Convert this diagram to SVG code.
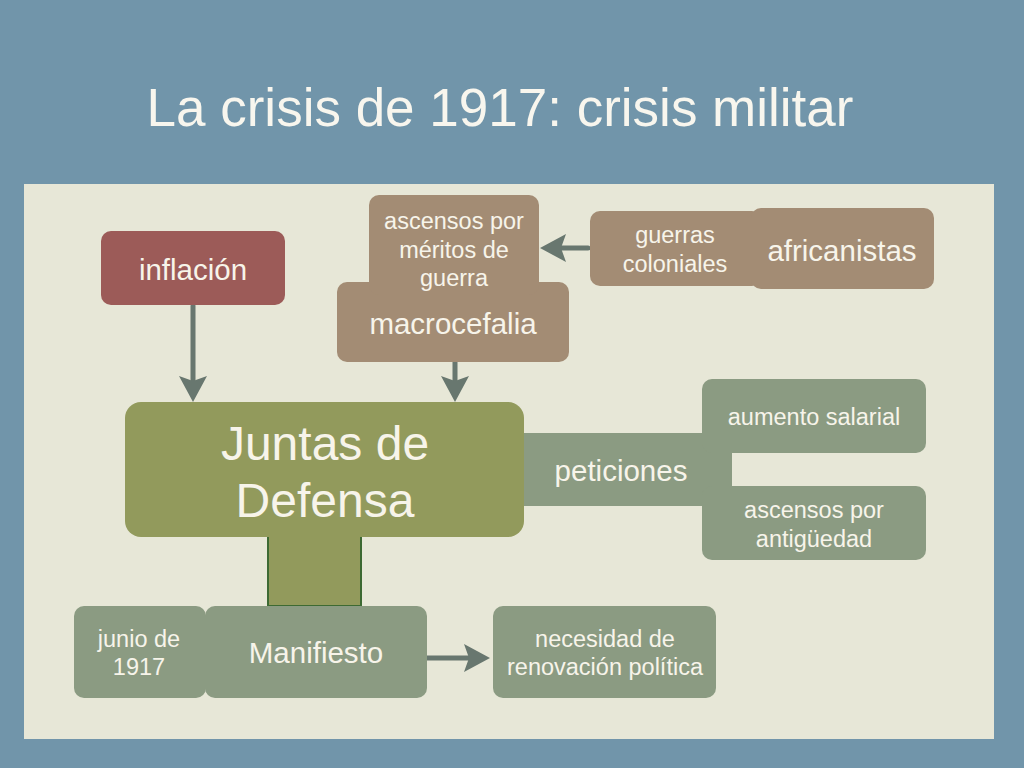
<svg xmlns="http://www.w3.org/2000/svg" width="1024" height="768" viewBox="0 0 1024 768">
<defs>
<style>
.t{font-family:"Liberation Sans",Arial,sans-serif;fill:#f7f4ea;text-anchor:middle}
.s{font-size:23.5px}
.m{font-size:29.5px}
.red{fill:#9c5b58}
.brn{fill:#a38c74}
.olv{fill:#929a5c}
.grn{fill:#8b9b82}
.con{stroke:#68776f;stroke-width:5;fill:none;stroke-linecap:round}
</style>
<marker id="ah" markerUnits="userSpaceOnUse" viewBox="0 0 26 28" refX="5" refY="14" markerWidth="26" markerHeight="28" orient="auto">
<path d="M0,0 L26,14 L0,28 L5,14 Z" fill="#68776f"/>
</marker>
</defs>
<rect width="1024" height="768" fill="#7195aa"/>
<rect x="24" y="184" width="970" height="555" fill="#e7e7d7"/>
<text x="500" y="126" style="font-family:'Liberation Sans',Arial,sans-serif;font-size:53px;fill:#f8f6ee;text-anchor:middle">La crisis de 1917: crisis militar</text>

<g id="connectors">
<line class="con" x1="193" y1="306" x2="193" y2="381" marker-end="url(#ah)"/>
<line class="con" x1="455" y1="362" x2="455" y2="381" marker-end="url(#ah)"/>
<line class="con" x1="588" y1="248" x2="561" y2="248" marker-end="url(#ah)"/>
<line class="con" x1="420" y1="658" x2="469" y2="658" marker-end="url(#ah)"/>
<rect x="268" y="520" width="93" height="86" class="olv"/>
<path d="M268,537 V606 H361 V537" fill="none" stroke="#3d6a33" stroke-width="2"/>
</g>

<g id="inflacion">
<rect x="101" y="231" width="184" height="74" rx="10" class="red"/>
<text x="193" y="280" class="t m">inflación</text>
</g>

<g id="macrocefalia">
<rect x="337" y="282" width="232" height="80" rx="10" class="brn"/>
<text x="453" y="334" class="t m">macrocefalia</text>
</g>

<g id="ascensos-meritos">
<rect x="369" y="195" width="170" height="100" rx="10" class="brn"/>
<text x="454" y="229" class="t s">ascensos por</text>
<text x="454" y="258" class="t s">méritos de</text>
<text x="454" y="286" class="t s">guerra</text>
</g>

<g id="guerras-coloniales">
<rect x="590" y="211" width="172" height="75" rx="10" class="brn"/>
<text x="675" y="243" class="t s">guerras</text>
<text x="675" y="272" class="t s">coloniales</text>
</g>

<g id="africanistas">
<rect x="751" y="208" width="183" height="81" rx="10" class="brn"/>
<text x="842" y="261" class="t m">africanistas</text>
</g>

<g id="peticiones">
<rect x="515" y="433" width="217" height="73" class="grn"/>
<text x="621" y="481" class="t m">peticiones</text>
</g>

<g id="juntas">
<rect x="125" y="402" width="399" height="135" rx="16" class="olv"/>
<text x="325" y="460" class="t" style="font-size:48px">Juntas de</text>
<text x="325" y="517" class="t" style="font-size:48px">Defensa</text>
</g>

<g id="aumento-salarial">
<rect x="702" y="379" width="224" height="74" rx="10" class="grn"/>
<text x="814" y="425" class="t s">aumento salarial</text>
</g>

<g id="ascensos-antiguedad">
<rect x="702" y="486" width="224" height="74" rx="10" class="grn"/>
<text x="814" y="518" class="t s">ascensos por</text>
<text x="814" y="547" class="t s">antigüedad</text>
</g>

<g id="junio">
<rect x="74" y="606" width="132" height="92" rx="10" class="grn"/>
<text x="139" y="647" class="t s">junio de</text>
<text x="139" y="675" class="t s">1917</text>
</g>

<g id="manifiesto">
<rect x="205" y="606" width="222" height="92" rx="10" class="grn"/>
<text x="316" y="663" class="t m">Manifiesto</text>
</g>

<g id="necesidad">
<rect x="493" y="606" width="223" height="92" rx="10" class="grn"/>
<text x="605" y="647" class="t s">necesidad de</text>
<text x="605" y="675" class="t s">renovación política</text>
</g>
</svg>
